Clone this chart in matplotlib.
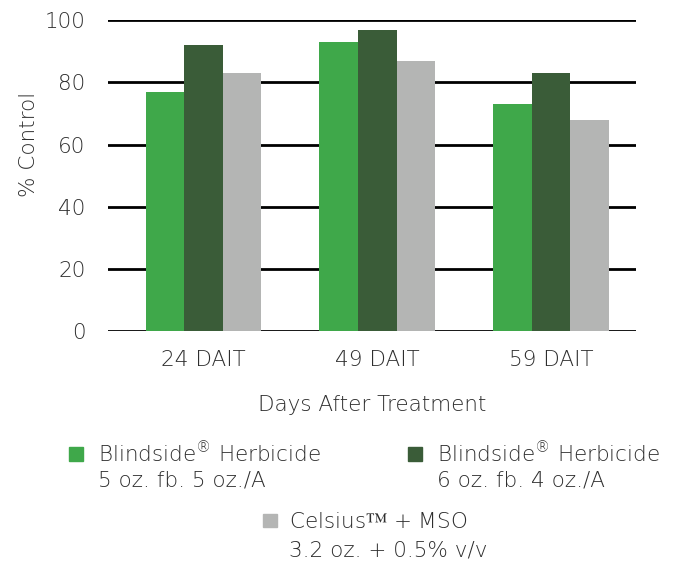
import numpy as np
import matplotlib.pyplot as plt
from matplotlib.patches import Patch

plt.rcParams['font.family'] = ['DejaVu Sans', 'Noto Sans']
plt.rcParams['font.weight'] = 'light'
plt.rcParams['axes.labelweight'] = 'light'

# dados
categorias = ['24 DAIT', '49 DAIT', '59 DAIT']
blindside_5 = [77, 93, 73]
blindside_6 = [92, 97, 83]
celsius = [83, 87, 68]

titulos = ['Blindside$^{®}$ Herbicide',
           'Blindside$^{®}$ Herbicide',
           'Celsius$™$ + MSO']
doses = ['5 oz. fb. 5 oz./A', '6 oz. fb. 4 oz./A', '3.2 oz. + 0.5% v/v']
cores = ['#3fa84a', '#3a5c38', '#b4b5b4']
texto = '#2e2e2e'
fs = 15.5

fig = plt.figure(figsize=(6.79, 5.61), dpi=100)
ax = fig.add_axes([0.159, 0.41, 0.778, 0.554])

x = np.arange(len(categorias))
w = 0.222
for i, serie in enumerate([blindside_5, blindside_6, celsius]):
    ax.bar(x + (i - 1) * w, serie, w, color=cores[i], zorder=3)

ax.set_ylim(0, 100)
ax.set_xlim(-0.55, 2.49)
ax.set_yticks(range(0, 101, 20))
ax.yaxis.grid(True, color='black', linewidth=2, zorder=0)
ax.set_axisbelow(True)
for s in ax.spines.values():
    s.set_visible(False)
ax.tick_params(length=0, labelsize=fs, colors=texto)
ax.tick_params(axis='y', pad=16)
ax.tick_params(axis='x', pad=14)
ax.set_xticks(x)
ax.set_xticklabels(categorias)

ax.set_xlabel('Days After Treatment', fontsize=fs, color=texto,
              labelpad=18, fontweight='light')
ax.set_ylabel('% Control', fontsize=fs, color=texto, fontweight='light')
ax.yaxis.set_label_coords(-0.13, 0.6)

# legenda: marcador + primeira linha, segunda linha como texto
pos_marca = [(69, 453, 98), (408, 453, 437), (263, 522, 289)]
for tit, dose, cor, (px, py, tx) in zip(titulos, doses, cores, pos_marca):
    fig.legend(handles=[Patch(color=cor)], labels=[tit], loc='center left',
               bbox_to_anchor=(px / 679, 1 - py / 561), frameon=False,
               fontsize=fs, handlelength=0.65, handleheight=0.6,
               handletextpad=(tx - px - 14) / 21.5, labelcolor=texto,
               borderpad=0, borderaxespad=0)
    fig.text(tx / 679, 1 - (py + 28) / 561, dose, fontsize=fs,
             color=texto, va='center', ha='left')

fig.savefig('out.png', dpi=100)
